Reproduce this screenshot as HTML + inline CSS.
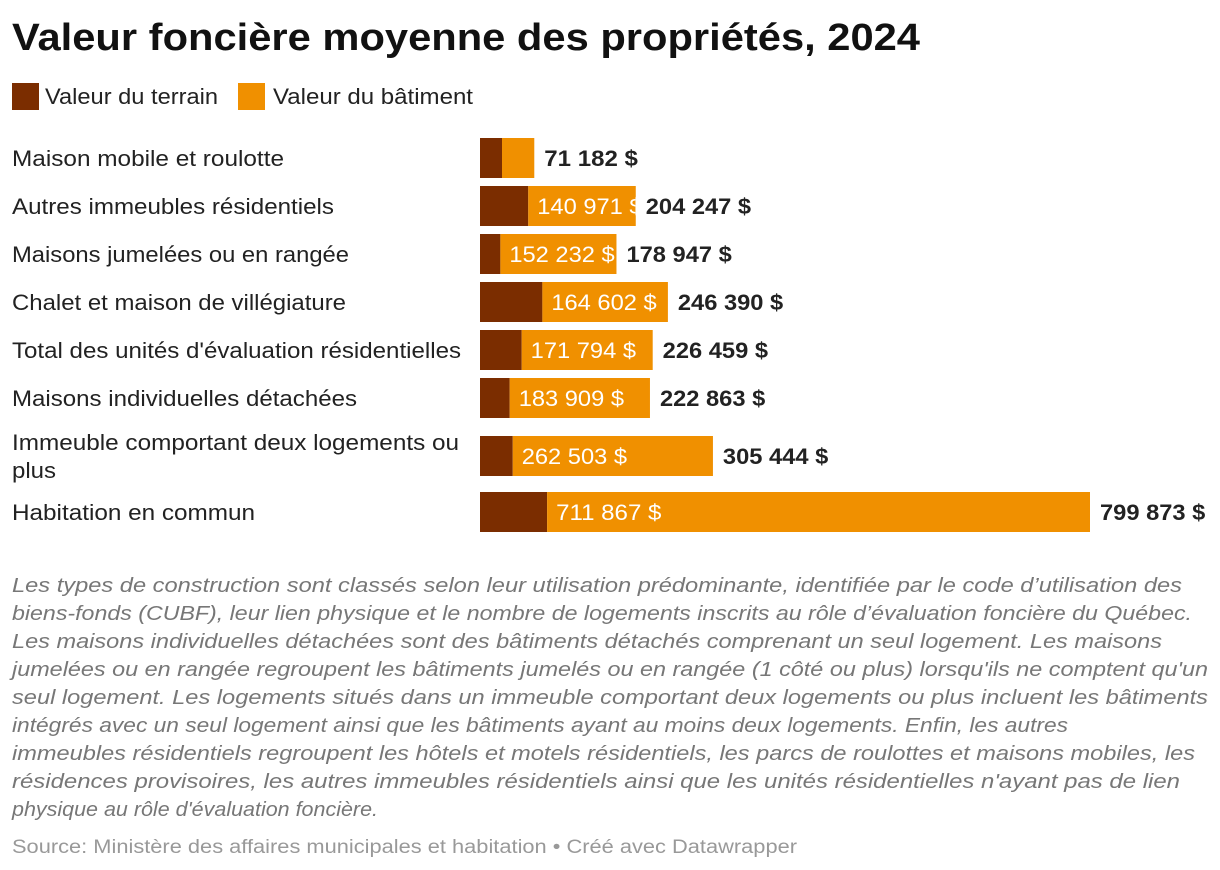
<!DOCTYPE html>
<html><head><meta charset="utf-8">
<style>
body{margin:0;background:#fff;width:1220px;height:870px;overflow:hidden;font-family:"Liberation Sans",sans-serif;}
svg{position:absolute;left:0;top:0;}
</style></head><body>
<svg id="chart" width="1220" height="870" font-family="Liberation Sans, sans-serif">
<text x="12" y="50" font-size="38" font-weight="bold" fill="#111" textLength="908" lengthAdjust="spacingAndGlyphs">Valeur foncière moyenne des propriétés, 2024</text>
<g>
<rect x="12" y="83" width="27" height="27" fill="#7b2d00"/>
<text x="45" y="104" font-size="22" fill="#222" textLength="173" lengthAdjust="spacingAndGlyphs">Valeur du terrain</text>
<rect x="238" y="83" width="27" height="27" fill="#f09000"/>
<text x="273" y="104" font-size="22" fill="#222" textLength="200" lengthAdjust="spacingAndGlyphs">Valeur du bâtiment</text>
</g>
<g id="notes" font-size="20" font-style="italic" fill="#777"></g>
<text x="12" y="853" font-size="19" fill="#999" textLength="785" lengthAdjust="spacingAndGlyphs">Source: Ministère des affaires municipales et habitation • Créé avec Datawrapper</text>
</svg>
<script>
const categories=["Maison mobile et roulotte","Autres immeubles résidentiels","Maisons jumelées ou en rangée","Chalet et maison de villégiature","Total des unités d'évaluation résidentielles","Maisons individuelles détachées","Immeuble comportant deux logements ou plus","Habitation en commun"];
const landValues=[28850,63276,26715,81788,54665,38954,42941,88006];
const buildingValues=[42332,140971,152232,164602,171794,183909,262503,711867];
const showBuildingLabel=[false,true,true,true,true,true,true,true];
const totalLabels=["71 182 $","204 247 $","178 947 $","246 390 $","226 459 $","222 863 $","305 444 $","799 873 $"];
const svg=document.getElementById('chart');
const NS='http://www.w3.org/2000/svg';
const X0=480, XW=610, MAXV=799873;
const x=v=>X0+v/MAXV*XW;
const rowTops=[138,186,234,282,330,378,436,492];
const labelEnds=[284,334,349,346,461,357,459,255];
const BH=40;
function fmt(v){return Math.round(v).toString().replace(/\B(?=(\d{3})+(?!\d))/g,' ')+' $';}
function mk(t,a,parent){const e=document.createElementNS(NS,t);for(const k in a)e.setAttribute(k,a[k]);(parent||svg).appendChild(e);return e;}
const defs=mk('defs',{});
categories.forEach((c,i)=>{
  const y=rowTops[i], cy=y+BH/2+8;
  if(i===6){
    const l1=mk('text',{x:12,y:cy-14,'font-size':22,fill:'#222',textLength:447,lengthAdjust:'spacingAndGlyphs'});
    
    
    l1.textContent='Immeuble comportant deux logements ou';
    const l2=mk('text',{x:12,y:cy+14,'font-size':22,fill:'#222',textLength:44,lengthAdjust:'spacingAndGlyphs'});
    
    
    l2.textContent='plus';
  } else {
    const lbl=mk('text',{x:12,y:cy,'font-size':22,fill:'#222',textLength:labelEnds[i]-12,lengthAdjust:'spacingAndGlyphs'});
    
    
    lbl.textContent=c;
  }
  const total=landValues[i]+buildingValues[i];
  const r1=mk('rect',{x:X0,y:y,width:x(landValues[i])-X0,height:BH,fill:'#7b2d00'});
  
  
  const r2=mk('rect',{x:x(landValues[i]),y:y,width:x(total)-x(landValues[i]),height:BH,fill:'#f09000'});
  
  
  if(showBuildingLabel[i]){
    const cp=mk('clipPath',{id:'c'+i},defs);
    mk('rect',{x:x(landValues[i]),y:y,width:x(total)-x(landValues[i]),height:BH},cp);
    const s=fmt(buildingValues[i]);
    const bt=mk('text',{x:x(landValues[i])+9,y:cy,'font-size':22,fill:'#fff','clip-path':'url(#c'+i+')',textLength:s.length*11.7,lengthAdjust:'spacingAndGlyphs'});
    
    
    bt.textContent=s;
  }
  const tt=mk('text',{x:x(total)+10,y:cy,'font-size':22,'font-weight':'bold',fill:'#222',textLength:totalLabels[i].length*11.7,lengthAdjust:'spacingAndGlyphs'});
  
  
  tt.textContent=totalLabels[i];
});
const noteLines=["Les types de construction sont classés selon leur utilisation prédominante, identifiée par le code d’utilisation des","biens-fonds (CUBF), leur lien physique et le nombre de logements inscrits au rôle d’évaluation foncière du Québec.","Les maisons individuelles détachées sont des bâtiments détachés comprenant un seul logement. Les maisons","jumelées ou en rangée regroupent les bâtiments jumelés ou en rangée (1 côté ou plus) lorsqu'ils ne comptent qu'un","seul logement. Les logements situés dans un immeuble comportant deux logements ou plus incluent les bâtiments","intégrés avec un seul logement ainsi que les bâtiments ayant au moins deux logements. Enfin, les autres","immeubles résidentiels regroupent les hôtels et motels résidentiels, les parcs de roulottes et maisons mobiles, les","résidences provisoires, les autres immeubles résidentiels ainsi que les unités résidentielles n'ayant pas de lien","physique au rôle d'évaluation foncière."];
const noteEnds=[1182,1192,1162,1208,1208,1068,1195,1180,378];
const notes=document.getElementById('notes');
noteLines.forEach((t,i)=>{
  const e=mk('text',{x:12,y:592+i*28,textLength:noteEnds[i]-12,lengthAdjust:'spacingAndGlyphs'},notes);
  
  
  e.textContent=t;
});
</script>
</body></html>
